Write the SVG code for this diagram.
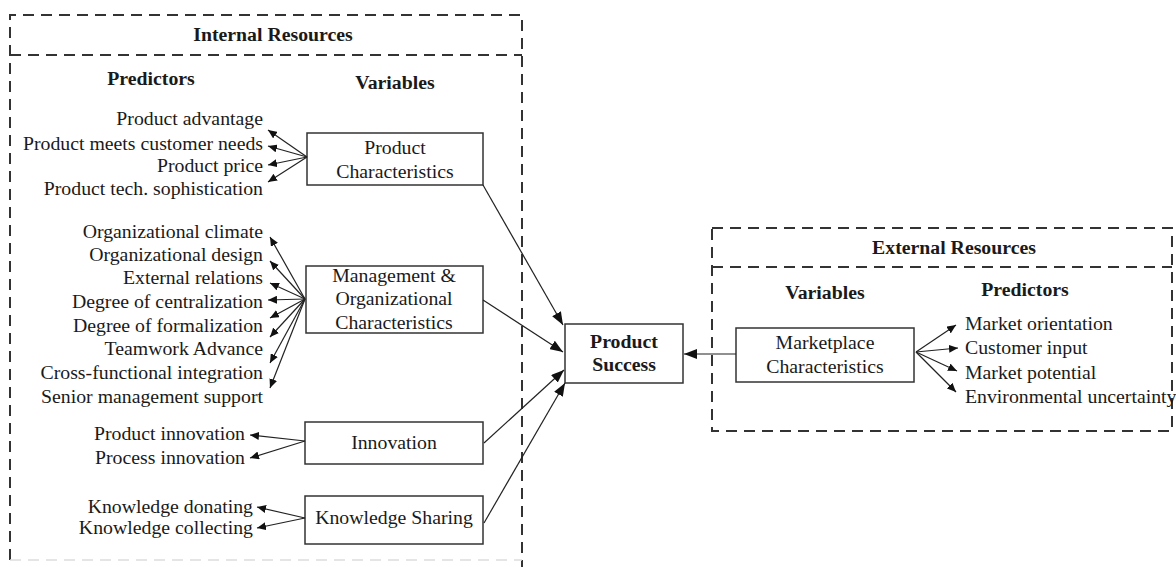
<svg xmlns="http://www.w3.org/2000/svg" width="1176" height="567" viewBox="0 0 1176 567">
<defs>
<style>
text{font-family:"Liberation Serif","Times New Roman",serif;font-size:19.8px;fill:#1a1a1a}
.b{font-weight:bold}
.m{text-anchor:middle}
.e{text-anchor:end}
.dash{fill:none;stroke:#333;stroke-width:2;stroke-dasharray:11 7}
.box{fill:#fff;stroke:#333;stroke-width:1.5}
.c{fill:none;stroke:#222;stroke-width:1.2}
.s{marker-end:url(#sa)}
.l{marker-end:url(#la)}
</style>
<marker id="sa" markerUnits="userSpaceOnUse" markerWidth="10" markerHeight="8" refX="9" refY="4" orient="auto"><path d="M0,0 L9,4 L0,8 Z" fill="#111"/></marker>
<marker id="la" markerUnits="userSpaceOnUse" markerWidth="14" markerHeight="10" refX="13" refY="5" orient="auto"><path d="M0,0 L13,5 L0,10 Z" fill="#111"/></marker>
</defs>

<g id="internal-frame">
<path class="dash" d="M10,560 L10,15 L522,15 L522,567"/>
<path class="dash" d="M10,55 L522,55"/>
<path d="M10,560 L522,560" fill="none" stroke="#ddd" stroke-width="1.5" stroke-dasharray="11 7"/>
<text class="b m" x="273" y="41">Internal Resources</text>
<text class="b m" x="151" y="85">Predictors</text>
<text class="b m" x="395" y="89">Variables</text>
</g>

<g id="external-frame">
<path class="dash" d="M712,228 L1172,228 L1172,431 L712,431 Z"/>
<path class="dash" d="M712,267 L1172,267"/>
<text class="b m" x="954" y="254">External Resources</text>
<text class="b m" x="825" y="299">Variables</text>
<text class="b m" x="1025" y="296">Predictors</text>
</g>

<g id="product-characteristics">
<rect class="box" x="307" y="133" width="176" height="52"/>
<text class="m" x="395" y="154">Product</text>
<text class="m" x="395" y="178">Characteristics</text>
</g>
<g id="pc-predictors">
<text class="e" x="263" y="125">Product advantage</text>
<text class="e" x="263" y="150">Product meets customer needs</text>
<text class="e" x="263" y="172">Product price</text>
<text class="e" x="263" y="195">Product tech. sophistication</text>
</g>

<g id="management">
<rect class="box" x="306" y="266" width="177" height="67"/>
<text class="m" x="394" y="282">Management &amp;</text>
<text class="m" x="394" y="305">Organizational</text>
<text class="m" x="394" y="329">Characteristics</text>
</g>
<g id="mo-predictors">
<text class="e" x="263" y="238">Organizational climate</text>
<text class="e" x="263" y="261">Organizational design</text>
<text class="e" x="263" y="284">External relations</text>
<text class="e" x="263" y="308">Degree of centralization</text>
<text class="e" x="263" y="332">Degree of formalization</text>
<text class="e" x="263" y="355">Teamwork Advance</text>
<text class="e" x="263" y="379">Cross-functional integration</text>
<text class="e" x="263" y="403">Senior management support</text>
</g>

<g id="innovation">
<rect class="box" x="305" y="422" width="178" height="42"/>
<text class="m" x="394" y="449">Innovation</text>
</g>
<g id="inn-predictors">
<text class="e" x="245" y="440">Product innovation</text>
<text class="e" x="245" y="464">Process innovation</text>
</g>

<g id="knowledge-sharing">
<rect class="box" x="305" y="496" width="178" height="48"/>
<text class="m" x="394" y="524">Knowledge Sharing</text>
</g>
<g id="ks-predictors">
<text class="e" x="253" y="513">Knowledge donating</text>
<text class="e" x="253" y="534">Knowledge collecting</text>
</g>

<g id="product-success">
<rect class="box" x="565" y="324" width="118" height="59"/>
<text class="b m" x="624" y="348">Product</text>
<text class="b m" x="624" y="371">Success</text>
</g>

<g id="marketplace">
<rect class="box" x="736" y="328" width="178" height="54"/>
<text class="m" x="825" y="349">Marketplace</text>
<text class="m" x="825" y="373">Characteristics</text>
</g>
<g id="mp-predictors">
<text x="965" y="330">Market orientation</text>
<text x="965" y="354">Customer input</text>
<text x="965" y="379">Market potential</text>
<text x="965" y="403">Environmental uncertainty</text>
</g>

<g id="connectors">
<line class="c s" x1="307" y1="157" x2="268" y2="130"/>
<line class="c s" x1="307" y1="157" x2="268" y2="146"/>
<line class="c s" x1="307" y1="157" x2="268" y2="165"/>
<line class="c s" x1="307" y1="157" x2="268" y2="182"/>

<line class="c s" x1="305" y1="299" x2="270" y2="237"/>
<line class="c s" x1="305" y1="299" x2="270" y2="261"/>
<line class="c s" x1="305" y1="299" x2="270" y2="283"/>
<line class="c s" x1="305" y1="299" x2="268" y2="300"/>
<line class="c s" x1="305" y1="299" x2="270" y2="318"/>
<line class="c s" x1="305" y1="299" x2="270" y2="337"/>
<line class="c s" x1="305" y1="299" x2="270" y2="363"/>
<line class="c s" x1="305" y1="299" x2="270" y2="388"/>

<line class="c s" x1="305" y1="441" x2="250" y2="435"/>
<line class="c s" x1="305" y1="441" x2="250" y2="458"/>

<line class="c s" x1="305" y1="518" x2="257" y2="507"/>
<line class="c s" x1="305" y1="518" x2="257" y2="528"/>

<line class="c l" x1="483" y1="185" x2="563" y2="325"/>
<line class="c l" x1="483" y1="300" x2="563" y2="352"/>
<line class="c l" x1="484" y1="443" x2="564" y2="370"/>
<line class="c l" x1="484" y1="523" x2="565" y2="383"/>

<line class="c l" x1="736" y1="354" x2="684" y2="354"/>

<line class="c s" x1="916" y1="352" x2="956" y2="325"/>
<line class="c s" x1="916" y1="352" x2="958" y2="348"/>
<line class="c s" x1="916" y1="352" x2="957" y2="371"/>
<line class="c s" x1="916" y1="352" x2="956" y2="392"/>
</g>
</svg>
